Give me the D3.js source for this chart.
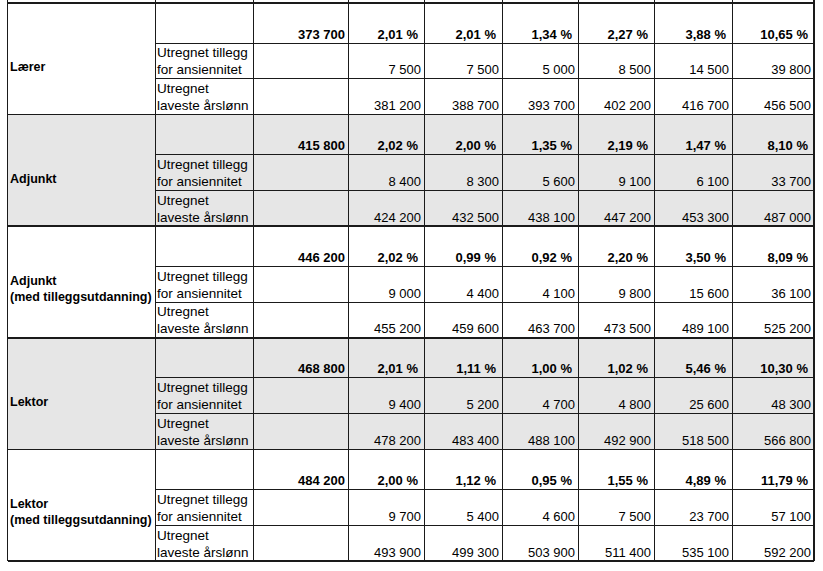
<!DOCTYPE html>
<html>
<head>
<meta charset="utf-8">
<script src="https://cdn.jsdelivr.net/npm/d3@7"></script>
<style>
  body { margin: 0; background: #fff; }
  text { font-family: "Liberation Sans", Arial, sans-serif; fill: #000; }
</style>
</head>
<body>
<div id="table"></div>
<script>
const categories = [["Lærer"], ["Adjunkt"], ["Adjunkt", "(med tilleggsutdanning)"], ["Lektor"], ["Lektor", "(med tilleggsutdanning)"]];
const subLabels = [[], ["Utregnet tillegg", "for ansiennitet"], ["Utregnet", "laveste årslønn"]];
const baseSalary = [373700, 415800, 446200, 468800, 484200];
const pctLaerer = [2.01, 2.01, 1.34, 2.27, 3.88, 10.65];
const pctAdjunkt = [2.02, 2.00, 1.35, 2.19, 1.47, 8.10];
const pctAdjunktM = [2.02, 0.99, 0.92, 2.20, 3.50, 8.09];
const pctLektor = [2.01, 1.11, 1.00, 1.02, 5.46, 10.30];
const pctLektorM = [2.00, 1.12, 0.95, 1.55, 4.89, 11.79];
const tilleggLaerer = [7500, 7500, 5000, 8500, 14500, 39800];
const tilleggAdjunkt = [8400, 8300, 5600, 9100, 6100, 33700];
const tilleggAdjunktM = [9000, 4400, 4100, 9800, 15600, 36100];
const tilleggLektor = [9400, 5200, 4700, 4800, 25600, 48300];
const tilleggLektorM = [9700, 5400, 4600, 7500, 23700, 57100];
const lavesteLaerer = [381200, 388700, 393700, 402200, 416700, 456500];
const lavesteAdjunkt = [424200, 432500, 438100, 447200, 453300, 487000];
const lavesteAdjunktM = [455200, 459600, 463700, 473500, 489100, 525200];
const lavesteLektor = [478200, 483400, 488100, 492900, 518500, 566800];
const lavesteLektorM = [493900, 499300, 503900, 511400, 535100, 592200];

const pct = [pctLaerer, pctAdjunkt, pctAdjunktM, pctLektor, pctLektorM];
const tillegg = [tilleggLaerer, tilleggAdjunkt, tilleggAdjunktM, tilleggLektor, tilleggLektorM];
const laveste = [lavesteLaerer, lavesteAdjunkt, lavesteAdjunktM, lavesteLektor, lavesteLektorM];

const width = 823, height = 571;
const locale = d3.formatLocale({decimal: ",", thousands: "\u00a0", grouping: [3], currency: ["", ""]});
const fmtNum = locale.format(",d");
const fmtPct = v => locale.format(".2f")(v) + " %";

// column edges (label, sublabel, base, 6 steps)
const colEdges = [7.5, 155, 253, 348, 424, 502, 578, 654, 732, 814];
const col = d3.scaleOrdinal().domain(d3.range(colEdges.length)).range(colEdges);

const block = d3.scaleBand()
    .domain(d3.range(categories.length))
    .range([3, 561]);
// sub-row boundaries within a block, as fractions
const sub = d3.scaleLinear().domain([0, 1]).range([0, 1]);
const subEdges = [0, 0.36, 0.68, 1];
const subY = (b, s) => block(b) + sub(subEdges[s]) * block.bandwidth();

const svg = d3.select("#table").append("svg")
    .attr("width", width)
    .attr("height", height);

// shaded blocks
svg.selectAll("rect.shade")
    .data(d3.range(categories.length).filter(i => i % 2 === 1))
    .join("rect")
    .attr("class", "shade")
    .attr("x", col(0))
    .attr("y", d => block(d))
    .attr("width", col(9) - col(0))
    .attr("height", block.bandwidth())
    .attr("fill", "#e6e6e6");

const grid = svg.append("g").attr("stroke", "#1a1a1a").attr("fill", "none").attr("shape-rendering", "crispEdges");

// horizontal lines: sub rows (not under the label column)
categories.forEach((c, b) => {
    [1, 2].forEach(s => {
        grid.append("line")
            .attr("x1", col(1)).attr("x2", col(9))
            .attr("y1", subY(b, s)).attr("y2", subY(b, s))
            .attr("stroke-width", 1);
    });
});
// block borders
d3.range(categories.length + 1).forEach(b => {
    const y = b < categories.length ? block(b) : block.range()[1];
    grid.append("line")
        .attr("x1", col(0)).attr("x2", col(9))
        .attr("y1", y).attr("y2", y)
        .attr("stroke-width", 1.5);
});
// vertical lines
colEdges.forEach((x, i) => {
    grid.append("line")
        .attr("x1", col(i)).attr("x2", col(i))
        .attr("y1", 0).attr("y2", block.range()[1])
        .attr("stroke-width", (i === 0 || i === 9) ? 1.5 : 1);
});

const txt = svg.append("g");

categories.forEach((lines, b) => {
    // category label
    const top = block(b);
    const ys = lines.length === 1 ? [top + 68] : [top + 59, top + 75];
    lines.forEach((line, k) => {
        txt.append("text")
            .attr("x", col(0) + 2.5)
            .attr("y", ys[k])
            .attr("font-size", "12.5px")
            .attr("font-weight", "bold")
            .text(line);
    });

    // bold row: base salary + percentages
    const yBold = subY(b, 1) - 4.5;
    txt.append("text")
        .attr("x", col(3) - 3)
        .attr("y", yBold)
        .attr("text-anchor", "end")
        .attr("font-size", "13px")
        .attr("font-weight", "bold")
        .text(fmtNum(baseSalary[b]));
    pct[b].forEach((v, j) => {
        txt.append("text")
            .attr("x", col(j + 4) - 6)
            .attr("y", yBold)
            .attr("text-anchor", "end")
            .attr("font-size", "13px")
            .attr("font-weight", "bold")
            .text(fmtPct(v));
    });

    // sub rows
    [tillegg[b], laveste[b]].forEach((vals, r) => {
        const s = r + 1;
        const y1 = subY(b, s + 1);
        subLabels[s].forEach((line, k) => {
            txt.append("text")
                .attr("x", col(1) + 2)
                .attr("y", y1 - 4.5 - (1 - k) * 17)
                .attr("font-size", "13.5px")
                .attr("fill", "#222")
                .text(line);
        });
        vals.forEach((v, j) => {
            txt.append("text")
                .attr("x", col(j + 4) - 3)
                .attr("y", y1 - 4.5)
                .attr("text-anchor", "end")
                .attr("font-size", "13px")
                .attr("fill", "#222")
                .text(fmtNum(v));
        });
    });
});
</script>
</body>
</html>
